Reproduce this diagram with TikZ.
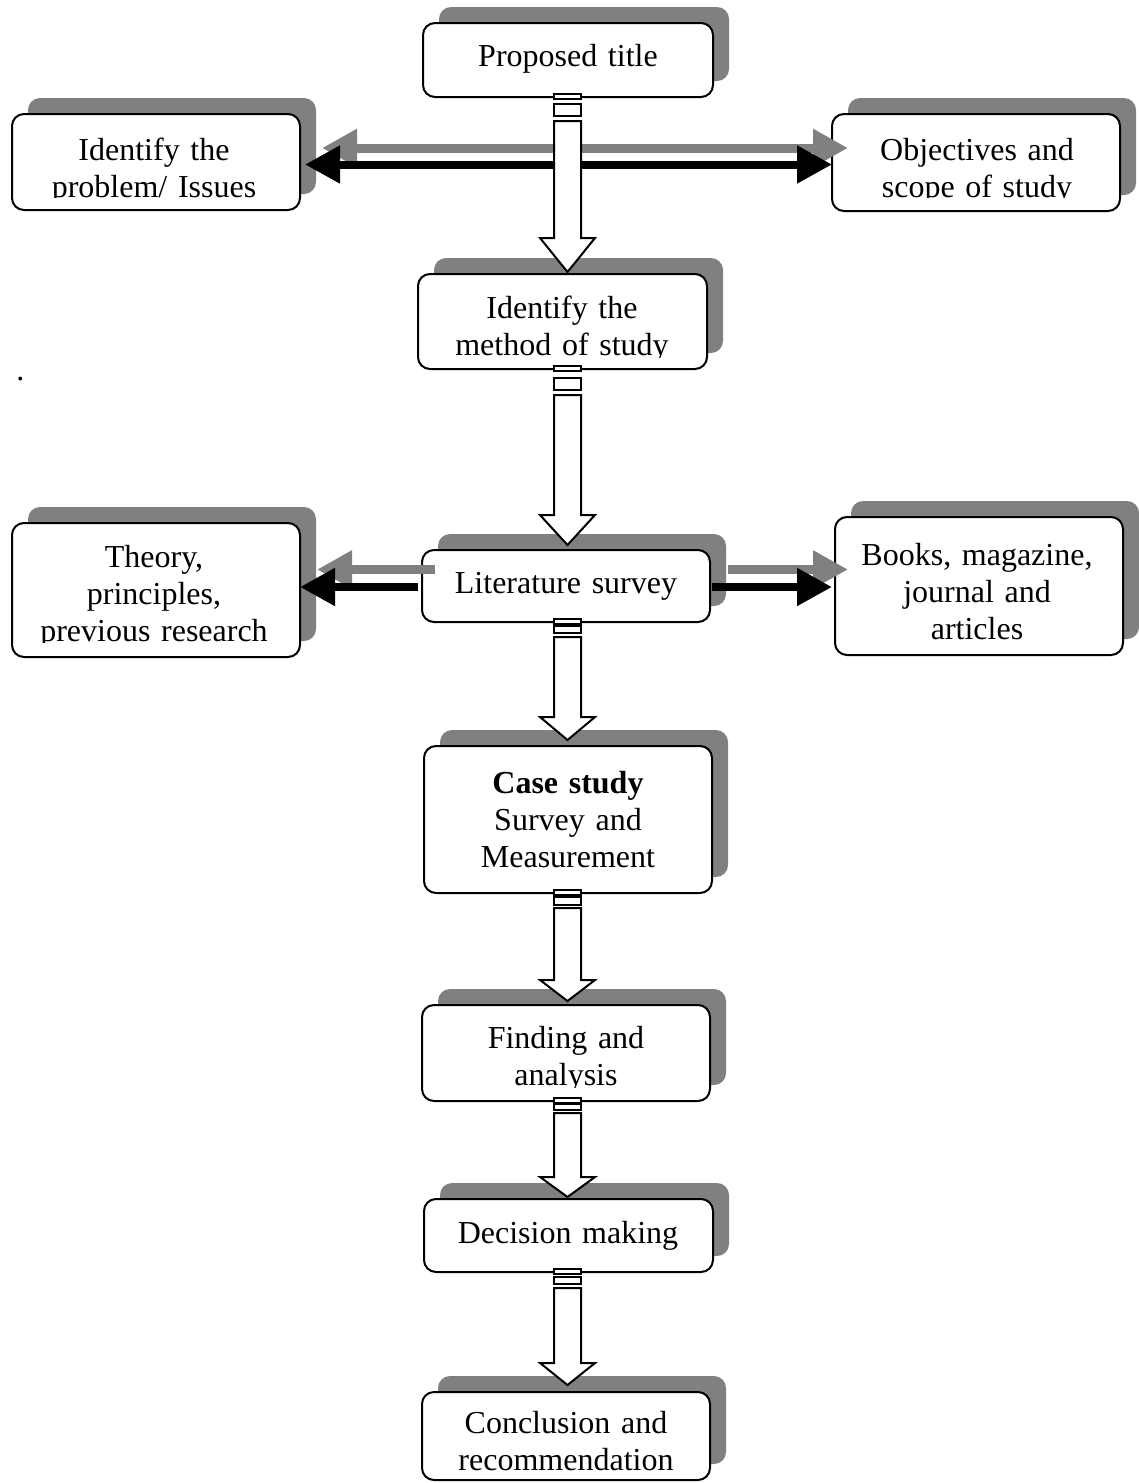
\documentclass[tikz,border=0pt]{standalone}
\usepackage{fontspec}
\setmainfont{Liberation Serif}
\usetikzlibrary{calc,fit,shadows,arrows.meta}
\definecolor{shgray}{RGB}{128,128,128}
\tikzset{
  x=0.5pt, y=-0.5pt,
  box/.style={draw=black, line width=1pt, fill=white, rounded corners=6pt,
    inner sep=0pt, outer sep=0pt,
    drop shadow={shadow xshift=8pt, shadow yshift=8pt, fill=shgray, opacity=1}},
  txt/.style={font=\fontsize{16pt}{18.5pt}\selectfont, text width=150pt, align=center,
    anchor=base, inner sep=0pt},
  hollow/.style={draw=black, line width=1pt, fill=white, line join=miter},
  blk/.style={draw=black, line width=4pt},
  gry/.style={draw=shgray, line width=4.5pt},
  tipb/.tip={Triangle[length=17.5pt, width=18pt]}
}
\newcommand\harrow[7]{%
  \coordinate (hs) at (axis |- #1.south);
  \coordinate (ht) at ($(axis |- #2.north)+(0,-#7)$);
  \draw[hollow] ($(hs)+(-13.5,-3)$) rectangle ($(hs)+(13.5,2)$);
  \draw[hollow] ($(hs)+(-13.5,#3)$) rectangle ($(hs)+(13.5,#4)$);
  \draw[hollow] ($(hs)+(-13.5,#5)$) -- ($(ht)+(-13.5,-#6)$) -- ($(ht)+(-27.5,-#6)$)
     -- (ht) -- ($(ht)+(27.5,-#6)$) -- ($(ht)+(13.5,-#6)$) -- ($(hs)+(13.5,#5)$) -- cycle;
}
\begin{document}
\begin{tikzpicture}
\useasboundingbox (0,0) rectangle (1139,1483);
\coordinate (axis) at (567.5,0);

% boxes
\node[box, fit={(423,23) (713,97)}] (title) {};
\node[box, fit={(12,114) (300,210)}] (problem) {};
\node[box, fit={(832,114) (1120,211)}] (objectives) {};
\node[box, fit={(418,274) (707,369)}] (method) {};
\node[box, fit={(422,550) (710,622)}] (lit) {};
\node[box, fit={(12,523) (300,657)}] (theory) {};
\node[box, fit={(835,517) (1123,655)}] (books) {};
\node[box, fit={(424,746) (712,893)}] (case) {};
\node[box, fit={(422,1005) (710,1101)}] (finding) {};
\node[box, fit={(424,1199) (713,1272)}] (decision) {};
\node[box, fit={(422,1392) (710,1480)}] (conclusion) {};

% texts
\node[txt] (title-t) at (568,66) {Proposed title};
\begin{scope}
  \clip (0,100) rectangle (1139,197);
  \node[txt] (problem-t) at (154,160) {Identify the\\problem/ Issues};
  \node[txt] (objectives-t) at (977,160) {Objectives and\\scope of study};
\end{scope}
\begin{scope}
  \clip (400,280) rectangle (720,357);
  \node[txt] (method-t) at (562,318) {Identify the\\method of study};
\end{scope}
\node[txt] (lit-t) at (566,593) {Literature survey};
\begin{scope}
  \clip (0,530) rectangle (320,642);
  \node[txt] (theory-t) at (154,567) {Theory,\\principles,\\previous research};
\end{scope}
\node[txt] (books-t) at (977,565) {Books, magazine,\\journal and\\articles};
\node[txt] (case-t) at (568,793) {\textbf{Case study}\\Survey and\\Measurement};
\begin{scope}
  \clip (400,1010) rectangle (720,1087);
  \node[txt] (finding-t) at (566,1048) {Finding and\\analysis};
\end{scope}
\node[txt] (decision-t) at (568,1243) {Decision making};
\node[txt] (conclusion-t) at (566,1433) {Conclusion and\\recommendation};

\node[font=\fontsize{16pt}{18.5pt}\selectfont, anchor=base west, inner sep=0pt] (dot) at (16,380) {.};

% shadow (gray) arrows
\draw[gry, {tipb}-{tipb}] ($(problem.east)+(22,-14)$) -- ($(problem.east -| objectives.west)+(16,-14)$);
\draw[gry, -{tipb}] ($(lit.west)+(13,-16.5)$) -- ($(lit.west -| theory.east)+(17,-16.5)$);
\draw[gry, -{tipb}] ($(lit.east)+(18,-16.5)$) -- ($(lit.east -| books.west)+(13,-16.5)$);

% black arrows
\draw[blk, {tipb}-{tipb}] ($(problem.east)+(5,2.5)$) -- ($(problem.east -| objectives.west)+(0,2.5)$);
\draw[blk, -{tipb}] ($(lit.west)+(-4,1)$) -- ($(lit.west -| theory.east)+(0,1)$);
\draw[blk, -{tipb}] ($(lit.east)+(2,1)$) -- ($(lit.east -| books.west)+(-3,1)$);

% hollow block arrows
\harrow{title}{method}{7}{19}{24}{34}{2}
\harrow{method}{lit}{9}{21}{26}{30}{5}
\harrow{lit}{case}{4}{11}{15}{23}{6}
\harrow{case}{finding}{4}{12}{15}{21}{4}
\harrow{finding}{decision}{3}{9}{12}{20}{2}
\harrow{decision}{conclusion}{5}{12}{16}{22}{7}
\end{tikzpicture}
\end{document}
